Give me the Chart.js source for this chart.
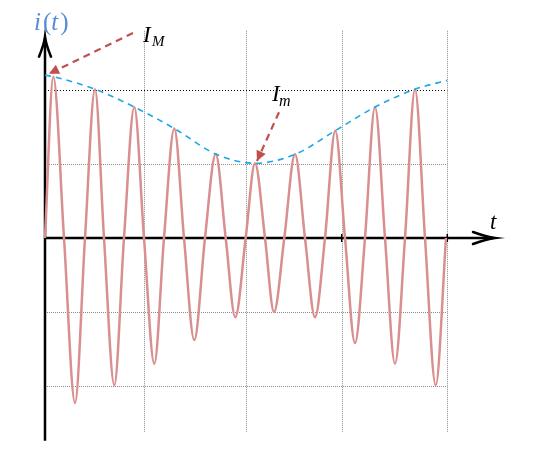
<!DOCTYPE html>
<html>
<head>
<meta charset="utf-8">
<script src="https://cdn.jsdelivr.net/npm/chart.js@4/dist/chart.umd.min.js"></script>
<style>
  html, body { margin: 0; padding: 0; background: #fff; }
  #wrap { width: 558px; height: 452px; position: relative; }
</style>
</head>
<body>
<div id="wrap"><canvas id="chart"></canvas></div>
<script>
// courant i(t) : extrema et passages par zéro
const tValues = [0, 0.083, 0.19, 0.30, 0.40, 0.50, 0.59, 0.693, 0.79, 0.893, 0.99,
  1.093, 1.19, 1.293, 1.39, 1.493, 1.60, 1.707, 1.807, 1.903, 2.007,
  2.10, 2.20, 2.29, 2.393, 2.50, 2.60, 2.70, 2.80, 2.903, 3.00,
  3.10, 3.20, 3.30, 3.40, 3.50, 3.60, 3.70, 3.80, 3.907, 4.01];
const iValues = [0, 2.18, 0, -2.23, 0, 2.01, 0, -1.99, 0, 1.77, 0,
  -1.70, 0, 1.48, 0, -1.38, 0, 1.135, 0, -1.07, 0,
  1.01, 0, -1.00, 0, 1.13, 0, -1.07, 0, 1.45, 0,
  -1.42, 0, 1.77, 0, -1.70, 0, 2.01, 0, -1.99, 0];

// enveloppe
const envT = [0, 0.083, 0.50, 0.893, 1.293, 1.707, 2.10, 2.50, 2.903, 3.30, 3.70, 4.02];
const envI = [2.2, 2.18, 2.01, 1.77, 1.48, 1.135, 1.01, 1.13, 1.45, 1.77, 2.01, 2.13];

// flèches I_M et I_m (départ -> pointe)
const arrowMaxT = [0.88, 0.04];
const arrowMaxI = [2.77, 2.22];
const arrowMinT = [2.34, 2.12];
const arrowMinI = [1.70, 1.04];

// grille
const gridT = [0.99, 2.007, 2.967, 4.023];
const gridI = [-2, -1, 1, 2];
const tickT = [2.967, 4.023];

const pts = (xs, ys) => xs.map((x, k) => ({ x, y: ys[k] }));

const axesPlugin = {
  id: 'axes',
  beforeDatasetsDraw(chart) {
    const { ctx, scales: { x, y } } = chart;
    const px = v => x.getPixelForValue(v);
    const py = v => y.getPixelForValue(v);
    ctx.save();
    // grille verticale
    ctx.lineWidth = 1;
    ctx.strokeStyle = '#8c8c8c';
    ctx.setLineDash([1, 1]);
    gridT.forEach(t => {
      const X = Math.round(px(t)) + 0.5;
      ctx.beginPath();
      ctx.moveTo(X, py(2.80));
      ctx.lineTo(X, py(-2.62));
      ctx.stroke();
    });
    // grille horizontale
    gridI.forEach(v => {
      const Y = Math.round(py(v)) + 0.5;
      ctx.strokeStyle = v === 2 ? '#000' : '#8c8c8c';
      ctx.setLineDash(v === 2 ? [1, 2] : [1, 1]);
      ctx.beginPath();
      ctx.moveTo(px(v === 2 ? 0.03 : 0), Y);
      ctx.lineTo(px(4.023), Y);
      ctx.stroke();
    });
    ctx.setLineDash([]);
    // axes
    ctx.strokeStyle = '#000';
    ctx.lineWidth = 2.5;
    const x0 = px(0), y0 = py(0);
    ctx.beginPath();
    ctx.moveTo(x0, py(-2.74));
    ctx.lineTo(x0, py(2.70));
    ctx.moveTo(x0, y0);
    ctx.lineTo(px(4.48), y0);
    ctx.stroke();
    // graduations
    ctx.lineWidth = 1.5;
    tickT.forEach(t => {
      ctx.beginPath();
      ctx.moveTo(px(t), y0 - 4);
      ctx.lineTo(px(t), y0 + 4);
      ctx.stroke();
    });
    // pointes ouvertes
    ctx.lineWidth = 2.5;
    ctx.lineCap = 'round';
    const tipY = py(2.72);
    ctx.beginPath();
    ctx.moveTo(x0 - 6, tipY + 20);
    ctx.quadraticCurveTo(x0 - 1, tipY + 8, x0, tipY);
    ctx.quadraticCurveTo(x0 + 1, tipY + 8, x0 + 6, tipY + 20);
    ctx.stroke();
    const tipX = px(4.50);
    ctx.beginPath();
    ctx.moveTo(tipX - 22, y0 - 6);
    ctx.quadraticCurveTo(tipX - 8, y0 - 1, tipX, y0);
    ctx.quadraticCurveTo(tipX - 8, y0 + 1, tipX - 22, y0 + 6);
    ctx.stroke();
    ctx.restore();
  },
  afterDatasetsDraw(chart) {
    const { ctx, scales: { x, y } } = chart;
    const px = v => x.getPixelForValue(v);
    const py = v => y.getPixelForValue(v);
    ctx.save();
    // pointes des flèches rouges
    ctx.fillStyle = '#c0504d';
    [[arrowMaxT, arrowMaxI], [arrowMinT, arrowMinI]].forEach(([ts, is]) => {
      const ax = px(ts[0]), ay = py(is[0]);
      const bx = px(ts[1]), by = py(is[1]);
      const a = Math.atan2(by - ay, bx - ax);
      const L = 10, W = 5;
      ctx.beginPath();
      ctx.moveTo(bx, by);
      ctx.lineTo(bx - L * Math.cos(a) + W * Math.sin(a), by - L * Math.sin(a) - W * Math.cos(a));
      ctx.lineTo(bx - L * Math.cos(a) - W * Math.sin(a), by - L * Math.sin(a) + W * Math.cos(a));
      ctx.closePath();
      ctx.fill();
    });
    // textes
    const serif = '"Liberation Serif", "DejaVu Serif", serif';
    const txt = (s, X, Y, size, italic, color) => {
      ctx.font = (italic ? 'italic ' : '') + size + 'px ' + serif;
      ctx.fillStyle = color;
      ctx.fillText(s, X, Y);
      return X + ctx.measureText(s).width;
    };
    ctx.textBaseline = 'alphabetic';
    let cx = 34;
    const blue = '#5a8ad6';
    cx = txt('i', cx, 30, 25, true, blue) + 2;
    cx = txt('(', cx, 30, 25, false, blue);
    cx = txt('t', cx, 30, 25, true, blue) + 2;
    txt(')', cx, 30, 25, false, blue);
    txt('I', 143, 42, 23, true, '#000');
    txt('M', 152, 46, 15, true, '#000');
    txt('I', 272, 101, 23, true, '#000');
    txt('m', 279, 106, 16, true, '#000');
    txt('t', 490, 229, 23, true, '#000');
    ctx.restore();
  }
};

new Chart(document.getElementById('chart'), {
  type: 'line',
  data: {
    datasets: [
      {
        data: pts(arrowMaxT, arrowMaxI),
        borderColor: '#c0504d', borderWidth: 2.2, borderDash: [7, 5],
        pointRadius: 0, order: 1
      },
      {
        data: pts(arrowMinT, arrowMinI),
        borderColor: '#c0504d', borderWidth: 2.2, borderDash: [7, 5],
        pointRadius: 0, order: 1
      },
      {
        data: pts(envT, envI),
        borderColor: '#1ea7e4', borderWidth: 1.6, borderDash: [6, 5],
        pointRadius: 0, cubicInterpolationMode: 'monotone', order: 2
      },
      {
        data: pts(tValues, iValues),
        borderColor: '#d98f8f', borderWidth: 2.5,
        pointRadius: 0, cubicInterpolationMode: 'monotone', order: 3
      }
    ]
  },
  options: {
    responsive: true,
    maintainAspectRatio: false,
    animation: false,
    layout: { padding: 0 },
    plugins: { legend: { display: false }, tooltip: { enabled: false } },
    scales: {
      x: { type: 'linear', display: false, min: -0.45, max: 5.13 },
      y: { type: 'linear', display: false, min: -2.892, max: 3.216 }
    }
  },
  plugins: [axesPlugin]
});
</script>
</body>
</html>
